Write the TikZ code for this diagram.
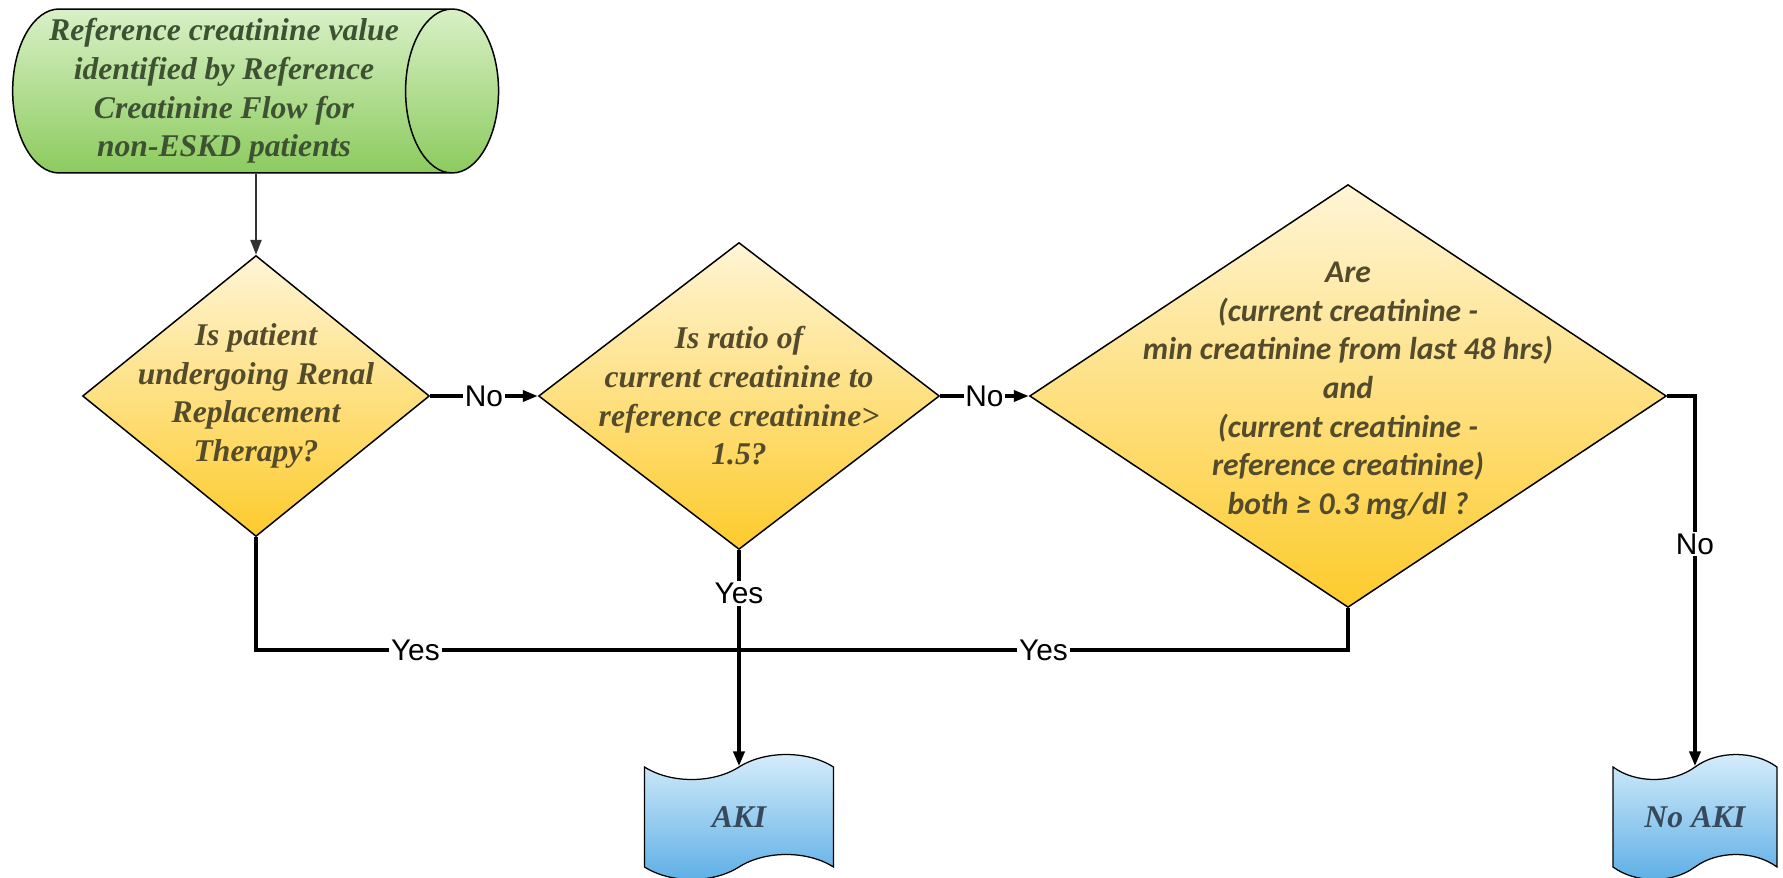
\documentclass[tikz,border=0pt]{standalone}
\usepackage{fontspec}
\setmainfont{Liberation Serif}
\setsansfont{Liberation Sans}
\newfontfamily\calibrifont{Carlito}
\usetikzlibrary{shapes.geometric, shapes.symbols, arrows.meta}

\definecolor{greentop}{HTML}{D8F0C6}
\definecolor{greenbot}{HTML}{8CCB5E}
\definecolor{greentext}{HTML}{3E5233}
\definecolor{goldtop}{HTML}{FFF5D6}
\definecolor{goldbot}{HTML}{FDCB2C}
\definecolor{goldtext}{HTML}{534B2B}
\definecolor{bluetop}{HTML}{D8EEFB}
\definecolor{bluebot}{HTML}{5BAEE5}
\definecolor{bluetext}{HTML}{37495A}

\tikzset{
  store/.style={draw, cylinder, shape border rotate=0, aspect=0.6, inner sep=0.1cm,
    minimum width=3.28cm, minimum height=9.72cm, line width=0.03cm, align=center,
    top color=greentop, bottom color=greenbot, text=greentext,
    font=\fontsize{18pt}{22pt}\selectfont\bfseries\itshape},
  decision/.style={draw, diamond, inner sep=0pt, line width=0.03cm,
    top color=goldtop, bottom color=goldbot},
  qtext/.style={align=center, text=goldtext, font=\fontsize{18pt}{22pt}\selectfont\bfseries\itshape},
  outcome/.style={draw, tape, tape bend height=0.5cm, minimum height=2.5cm, line width=0.025cm,
    top color=bluetop, bottom color=bluebot, text=bluetext,
    font=\fontsize{18pt}{22pt}\selectfont\bfseries\itshape},
  ans/.style={fill=white, inner sep=1pt, font=\sffamily\fontsize{17pt}{20pt}\selectfont},
  link/.style={line width=0.07cm},
  boldlink/.style={line width=0.09cm},
  thinlink/.style={line width=0.05cm, black!80}
}

\begin{document}
\begin{tikzpicture}[x=0.02cm, y=-0.02cm, >={Triangle[length=0.3cm, width=0.22cm]}]
    \useasboundingbox (0,0) rectangle (1783,878);

    % start
    \node[store] (ref) at (224,91) {Reference creatinine value\\identified by Reference\\Creatinine Flow for\\non-ESKD patients};

    % questions
    \node[decision, minimum width=6.94cm, minimum height=5.62cm] (rrt) at (256,396) {};
    \node[qtext] (rrttext) at (rrt) {Is patient\\undergoing Renal\\Replacement\\Therapy?};
    \node[decision, minimum width=8.02cm, minimum height=6.14cm] (ratio) at (739,396) {};
    \node[qtext] (ratiotext) at (ratio) {Is ratio of\\current creatinine to\\reference creatinine>\\1.5?};
    \node[decision, minimum width=12.74cm, minimum height=8.46cm] (delta) at (1348,396) {};
    \node[qtext, font=\fontsize{18pt}{22pt}\selectfont\calibrifont\bfseries\itshape] (deltatext) at (1348,391) {Are\\(current creatinine -\\min creatinine from last 48 hrs)\\and\\(current creatinine -\\reference creatinine)\\both ≥ 0.3 mg/dl ?};

    % results
    \node[outcome, minimum width=3.78cm] (aki) at (739,817) {AKI};
    \node[outcome, minimum width=3.28cm] (noaki) at (1695,817) {No AKI};
    \coordinate (join) at (739,650);

    \draw[thinlink, ->] (rrt.north |- ref.south) -- (rrt.north);
    \draw[link, ->] (rrt) -- node[ans]{No} (ratio);
    \draw[link, ->] (ratio) -- node[ans]{No} (delta);
    \draw[boldlink, ->] (delta.east) -| node[ans, pos=0.7]{No} (noaki.north);
    \draw[boldlink] (rrt.south) |- node[ans, pos=0.665]{Yes} (join);
    \draw[boldlink] (delta.south) |- node[ans, pos=0.75]{Yes} (join);
    \draw[boldlink, ->] (ratio.south) -- node[ans, pos=0.2]{Yes} (aki.north);
\end{tikzpicture}
\end{document}
